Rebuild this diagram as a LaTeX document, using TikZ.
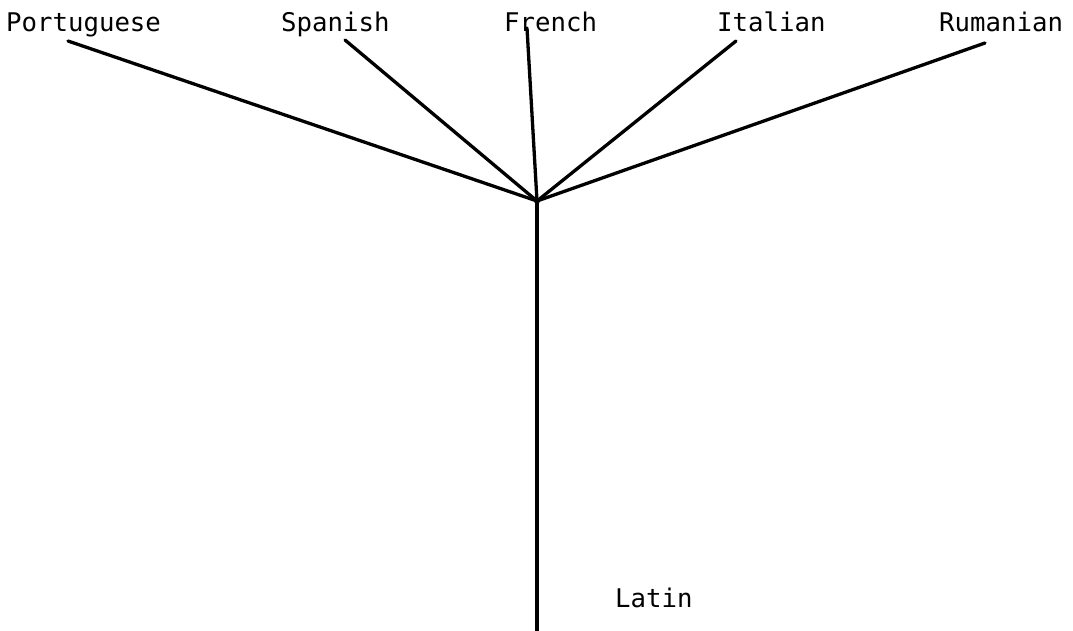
\documentclass[tikz,border=0pt]{standalone}
\usepackage{fontspec}
\newfontfamily\monofam{DejaVu Sans Mono}
\begin{document}
\begin{tikzpicture}[x=1pt,y=-1pt,
  lbl/.style={anchor=base west,inner sep=0pt,font=\monofam\fontsize{25.7}{30}\selectfont},
  branch/.style={line width=3.3pt,line cap=round,line join=round}]
\useasboundingbox (0,0) rectangle (1073,631);
% labels
\node[lbl] (por) at (6,32) {Portuguese};
\node[lbl] (spa) at (281,32) {Spanish};
\node[lbl] (fre) at (504,32) {French};
\node[lbl] (ita) at (717,32) {Italian};
\node[lbl] (rum) at (939,32) {Rumanian};
\node[lbl] (lat) at (615,607) {Latin};
% line ends
\coordinate (hub) at (537,201);
\coordinate (porE) at (68,41);
\coordinate (spaE) at (345,40);
\coordinate (freE) at (527,28);
\coordinate (itaE) at (736,41);
\coordinate (rumE) at (985,43);
\coordinate (root) at (537,631);
% connectors
\draw[branch] (porE) -- (hub);
\draw[branch] (spaE) -- (hub);
\draw[branch] (freE) -- (hub);
\draw[branch] (itaE) -- (hub);
\draw[branch] (rumE) -- (hub);
\draw[branch,line cap=butt] (hub) -- (root);
\fill (hub) circle (3pt);
\end{tikzpicture}
\end{document}
